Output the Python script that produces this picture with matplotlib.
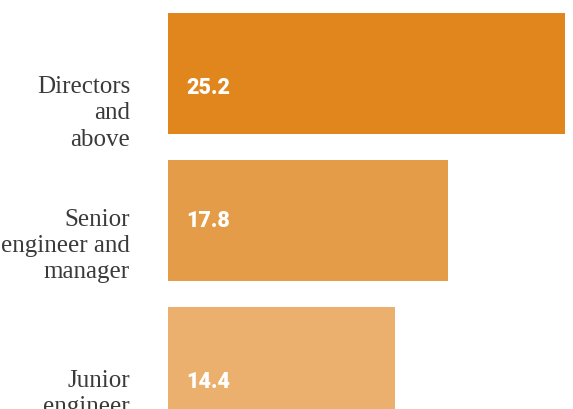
import matplotlib
matplotlib.use('Agg')
import matplotlib.pyplot as plt

# data
categories = ['Directors\nand\nabove', 'Senior\nengineer and\nmanager', 'Junior\nengineer']
values = [25.2, 17.8, 14.4]
colors = ['#E0861D', '#E59C48', '#EBB06E']
# baseline of the first text line relative to bar centre (data units)
text_offsets = [0.133, 0.037, 0.133]

fig = plt.figure(figsize=(5.73, 4.10), dpi=100)
ax = fig.add_axes([168 / 573, 0, 405 / 573, 1])

ypos = list(range(len(values)))
ax.barh(ypos, values, height=0.82, color=colors)
ax.set_xlim(0, 405 / 15.754)
ax.set_ylim(2.282, -0.507)
ax.axis('off')

for y, v, lab, off in zip(ypos, values, categories, text_offsets):
    ax.text(1.14, y + off, f'{v:.1f}', color='white', fontsize=15.5,
            fontweight='black', family=['Roboto', 'DejaVu Sans'],
            va='baseline', ha='left')
    # label: top of first line box sits one ascent above the shared baseline
    ax.annotate(lab, xy=(0, y + off), xycoords='data',
                xytext=(-38, 18), textcoords='offset pixels',
                ha='right', va='top', fontsize=18, color='#3a3a3a',
                family='Liberation Serif', linespacing=1.25,
                annotation_clip=False, multialignment='right')

fig.savefig('out.png', dpi=100)
